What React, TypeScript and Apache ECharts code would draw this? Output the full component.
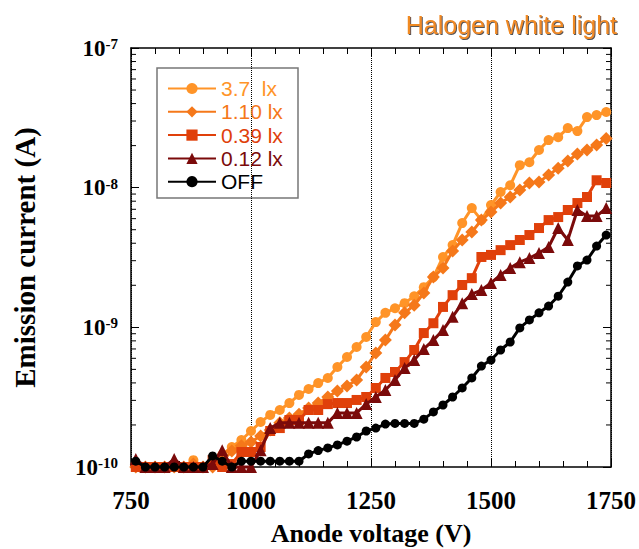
import React, { useEffect, useRef } from "react";
import * as echarts from "echarts";

const voltages = [
  760, 780, 800, 820, 840, 860, 880, 900, 920, 940,
  960, 980, 1000, 1020, 1040, 1060, 1080, 1100, 1120, 1140,
  1160, 1180, 1200, 1220, 1240, 1260, 1280, 1300, 1320, 1340,
  1360, 1380, 1400, 1420, 1440, 1460, 1480, 1500, 1520, 1540,
  1560, 1580, 1600, 1620, 1640, 1660, 1680, 1700, 1720, 1740,
];

const lx3_7 = [
  1.0e-10, 1.0e-10, 1.0e-10, 1.0e-10, 1.05e-10, 1.0e-10, 1.12e-10, 1.0e-10, 1.05e-10, 1.22e-10,
  1.39e-10, 1.56e-10, 1.81e-10, 2.1e-10, 2.36e-10, 2.56e-10, 2.87e-10, 3.28e-10, 3.62e-10, 3.99e-10,
  4.34e-10, 5.2e-10, 6.13e-10, 7.23e-10, 8.53e-10, 1.09e-9, 1.27e-9, 1.37e-9, 1.49e-9, 1.67e-9,
  1.94e-9, 2.29e-9, 3.19e-9, 3.88e-9, 5.58e-9, 7.14e-9, 5.86e-9, 7.5e-9, 9.31e-9, 1.04e-8,
  1.45e-8, 1.52e-8, 1.86e-8, 2.19e-8, 2.3e-8, 2.67e-8, 2.54e-8, 3.2e-8, 3.31e-8, 3.48e-8,
];

const lx1_10 = [
  1.0e-10, 1.0e-10, 1.0e-10, 1.0e-10, 1.0e-10, 1.0e-10, 1.05e-10, 1.0e-10, 1.0e-10, 1.1e-10,
  1.3e-10, 1.42e-10, 1.51e-10, 1.67e-10, 1.84e-10, 2.07e-10, 2.24e-10, 2.39e-10, 2.64e-10, 2.87e-10,
  3.17e-10, 3.5e-10, 3.8e-10, 4.2e-10, 5.2e-10, 6.55e-10, 8.1e-10, 1.04e-9, 1.27e-9, 1.44e-9,
  1.76e-9, 2.29e-9, 2.66e-9, 3.52e-9, 4.22e-9, 4.81e-9, 5.86e-9, 6.69e-9, 7.76e-9, 8.57e-9,
  9.61e-9, 1.08e-8, 1.1e-8, 1.23e-8, 1.38e-8, 1.55e-8, 1.74e-8, 1.86e-8, 2.02e-8, 2.25e-8,
];

const lx0_39 = [
  1.0e-10, 1.0e-10, 1.0e-10, 1.0e-10, 1.0e-10, 1.0e-10, 1.0e-10, 1.0e-10, 1.12e-10, 1.0e-10,
  1.05e-10, 1.28e-10, 1.28e-10, 1.39e-10, 1.81e-10, 1.9e-10, 2.17e-10, 2.17e-10, 2.56e-10, 2.56e-10,
  2.82e-10, 2.87e-10, 2.87e-10, 3.02e-10, 3.17e-10, 3.68e-10, 4.34e-10, 4.79e-10, 5.64e-10, 6.88e-10,
  9.1e-10, 1.07e-9, 1.4e-9, 1.7e-9, 2.01e-9, 2.25e-9, 3.19e-9, 3.3e-9, 3.57e-9, 3.88e-9,
  4.22e-9, 4.58e-9, 5.14e-9, 5.86e-9, 6.16e-9, 6.92e-9, 7.76e-9, 8.57e-9, 1.13e-8, 1.08e-8,
];

const lx0_12 = [
  1.14e-10, 1.0e-10, 1.0e-10, 1.0e-10, 1.14e-10, 1.0e-10, 1.0e-10, 1.0e-10, 1.05e-10, 1.32e-10,
  1.0e-10, 1.0e-10, 1.0e-10, 1.32e-10, 1.9e-10, 2.07e-10, 2.07e-10, 2.07e-10, 2.07e-10, 2.07e-10,
  2.07e-10, 2.44e-10, 2.44e-10, 2.44e-10, 2.82e-10, 3.17e-10, 3.56e-10, 4.2e-10, 5.11e-10, 5.83e-10,
  7.0e-10, 8.1e-10, 9.57e-10, 1.19e-9, 1.49e-9, 1.73e-9, 1.85e-9, 2.08e-9, 2.37e-9, 2.66e-9,
  2.93e-9, 3.13e-9, 3.4e-9, 3.76e-9, 5.14e-9, 4.22e-9, 6.92e-9, 6.26e-9, 6.26e-9, 7.14e-9,
];

const lxOff = [
  1.1e-10, 1.0e-10, 1.0e-10, 1.0e-10, 1.0e-10, 1.0e-10, 1.0e-10, 1.0e-10, 1.2e-10, 1.1e-10,
  1.0e-10, 1.1e-10, 1.1e-10, 1.1e-10, 1.1e-10, 1.1e-10, 1.1e-10, 1.1e-10, 1.24e-10, 1.31e-10,
  1.37e-10, 1.44e-10, 1.53e-10, 1.64e-10, 1.81e-10, 1.9e-10, 2.03e-10, 2.05e-10, 2.05e-10, 2.05e-10,
  2.2e-10, 2.48e-10, 2.78e-10, 3.17e-10, 3.68e-10, 4.34e-10, 5.28e-10, 5.83e-10, 6.88e-10, 7.85e-10,
  9.9e-10, 1.13e-9, 1.27e-9, 1.42e-9, 1.67e-9, 2.11e-9, 2.75e-9, 3.03e-9, 3.82e-9, 4.58e-9,
];

const seriesNames = ["3.7  lx", "1.10 lx", "0.39 lx", "0.12 lx", "OFF"];
const seriesValues = [lx3_7, lx1_10, lx0_39, lx0_12, lxOff];
const seriesColors = ["#FF9428", "#F5781A", "#E0400A", "#7B0A0A", "#000000"];
const seriesSymbols = ["circle", "diamond", "rect", "triangle", "circle"];
const seriesSymbolSizes = [10, 13, 10, 12, 9];

const xMin = 750;
const xMax = 1750;
const xInterval = 250;
const yMin = 1e-10;
const yMax = 1e-7;
const yMinorTicks: number[] = [];
for (let e = -10; e < -7; e++) {
  for (let m = 2; m <= 9; m++) yMinorTicks.push(m * Math.pow(10, e));
}

const titleText = "Halogen white light";
const xName = "Anode voltage (V)";
const yName = "Emission current (A)";

const serif = "'Liberation Serif', 'Times New Roman', serif";
const sans = "'Liberation Sans', Arial, sans-serif";

export default function App() {
  const ref = useRef<HTMLDivElement>(null);
  useEffect(() => {
    if (!ref.current) return;
    const chart = echarts.init(ref.current, null, { renderer: "svg" });
    const axisLine = { show: true, lineStyle: { color: "#000", width: 1.5 } };
    const option: any = {
      animation: false,
      backgroundColor: "#fff",
      title: {
        text: titleText,
        right: 22,
        top: 12,
        padding: 0,
        textStyle: {
          color: "#F08A24",
          fontFamily: sans,
          fontSize: 25,
          fontWeight: "normal",
          textShadowColor: "#555",
          textShadowOffsetX: 1,
          textShadowOffsetY: 1,
          textShadowBlur: 1,
        },
      },
      grid: {
        left: 131,
        right: 28,
        top: 48,
        bottom: 82,
        containLabel: false,
        outerBoundsMode: "none",
      },
      legend: {
        left: 157,
        top: 68,
        orient: "vertical",
        padding: [10, 8, 9, 10],
        itemWidth: 48,
        itemHeight: 14,
        itemGap: 2.3,
        data: seriesNames.map((n, i) => ({ name: n, textStyle: { color: seriesColors[i] } })),
        textStyle: { fontFamily: sans, fontSize: 21, lineHeight: 20 },
      },
      graphic: [
        {
          type: "rect",
          shape: { x: 157, y: 68, width: 141, height: 130 },
          style: { fill: "none", stroke: "#777", lineWidth: 1.5 },
          silent: true,
        },
      ],
      xAxis: [
        {
          type: "value",
          min: xMin,
          max: xMax,
          interval: xInterval,
          position: "bottom",
          axisLine,
          axisTick: { show: true, inside: true, length: 8, lineStyle: { color: "#000", width: 1 } },
          minorTick: { show: true, splitNumber: 5, length: 6, lineStyle: { color: "#000", width: 1 } },
          axisLabel: {
            color: "#000",
            fontFamily: serif,
            fontWeight: "bold",
            fontSize: 25,
            margin: 21,
            formatter: (v: number) => String(v),
          },
          splitLine: { show: true, lineStyle: { type: "dotted", color: "#000", width: 1 } },
          name: xName,
          nameLocation: "middle",
          nameGap: 53,
          nameTextStyle: { color: "#000", fontFamily: serif, fontWeight: "bold", fontSize: 26 },
        },
        {
          type: "value",
          min: xMin,
          max: xMax,
          interval: xInterval,
          position: "top",
          axisLine,
          axisTick: { show: true, inside: true, length: 8, lineStyle: { color: "#000", width: 1 } },
          minorTick: { show: true, splitNumber: 5, length: 6, lineStyle: { color: "#000", width: 1 } },
          axisLabel: { show: false },
          splitLine: { show: false },
        },
      ],
      yAxis: [
        {
          type: "log",
          logBase: 10,
          min: yMin,
          max: yMax,
          position: "left",
          axisLine,
          axisTick: { show: true, inside: true, length: 8, lineStyle: { color: "#000", width: 1 } },
          axisLabel: {
            margin: 13,
            formatter: (v: number) => `{b|10}{s|-${-Math.round(Math.log10(v))}}`,
            rich: {
              b: { fontFamily: serif, fontWeight: "bold", fontSize: 23, color: "#000" },
              s: { fontFamily: serif, fontWeight: "bold", fontSize: 15, color: "#000", verticalAlign: "top" },
            },
          },
          splitLine: { show: false },
          name: yName,
          nameLocation: "middle",
          nameRotate: 90,
          nameGap: 92,
          nameTextStyle: { color: "#000", fontFamily: serif, fontWeight: "bold", fontSize: 29 },
        },
        {
          type: "log",
          logBase: 10,
          min: yMin,
          max: yMax,
          position: "right",
          axisLine,
          axisTick: { show: true, inside: true, length: 8, lineStyle: { color: "#000", width: 1 } },
          axisLabel: { show: false },
          splitLine: { show: false },
        },
      ],
      series: [
        {
          name: "minorTicks",
          type: "custom",
          xAxisIndex: 0,
          yAxisIndex: 0,
          silent: true,
          clip: false,
          data: yMinorTicks.map((v) => [xMin, v]),
          renderItem: (params: any, api: any) => {
            const p = api.coord([xMin, api.value(1)]);
            const q = api.coord([xMax, api.value(1)]);
            return {
              type: "group",
              children: [
                { type: "line", shape: { x1: p[0], y1: p[1], x2: p[0] + 5, y2: p[1] }, style: { stroke: "#000", lineWidth: 1 } },
                { type: "line", shape: { x1: q[0] - 5, y1: q[1], x2: q[0], y2: q[1] }, style: { stroke: "#000", lineWidth: 1 } },
              ],
            };
          },
        },
        ...seriesNames.map((name, i) => ({
          name,
          type: "line",
          xAxisIndex: 0,
          yAxisIndex: 0,
          clip: false,
          data: voltages.map((v, j) => [v, seriesValues[i][j]]),
          symbol: seriesSymbols[i],
          symbolSize: seriesSymbolSizes[i],
          showAllSymbol: true,
          lineStyle: { color: seriesColors[i], width: 3 },
          itemStyle: { color: seriesColors[i] },
          z: 3 + i,
        })),
      ],
    };
    chart.setOption(option);
    return () => chart.dispose();
  }, []);
  return (
    <div
      ref={ref}
      style={{ position: "fixed", left: 0, top: 0, width: 639, height: 549 }}
    />
  );
}
